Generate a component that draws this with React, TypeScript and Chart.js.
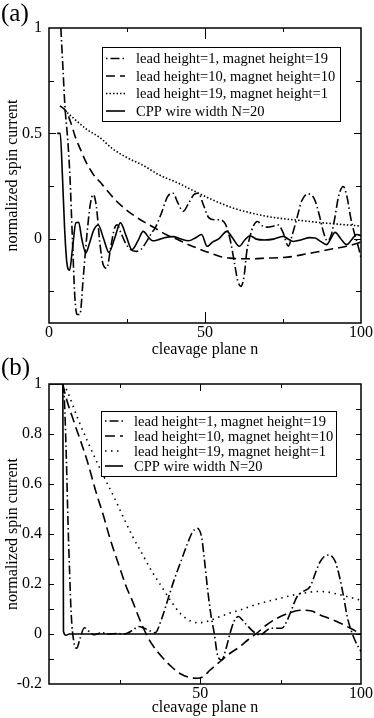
import React, { useEffect, useRef } from "react";
import { Chart, registerables } from "chart.js";

Chart.register(...registerables);

const FONT = "'Liberation Serif', 'Times New Roman', Times, serif";

const seriesLabels = [
  "lead height=1, magnet height=19",
  "lead height=10, magnet height=10",
  "lead height=19, magnet height=1",
  "CPP wire width N=20",
];

// ---------- panel (a) ----------
const aDashDotN = [3.8, 4.5, 5.1, 6.0, 6.7, 7.5, 8.3, 9.0, 9.9, 11.0, 12.1, 13.2, 14.2, 15.2, 16.3, 17.3, 18.5, 19.8, 21.0, 21.9, 23.0, 24.5, 26.0, 28.0, 29.5, 31.0, 33.0, 34.0, 36.0, 38.0, 39.8, 41.3, 43.0, 44.8, 46.5, 47.9, 49.5, 51.2, 53.0, 54.8, 56.5, 58.0, 59.5, 60.5, 61.5, 62.5, 63.4, 64.4, 65.5, 66.8, 68.5, 70.0, 72.0, 73.5, 75.0, 76.7, 78.0, 79.5, 81.0, 83.0, 85.0, 86.5, 88.0, 89.2, 90.3, 91.5, 92.8, 94.3, 95.5, 96.7, 97.8, 99.0, 100];
const aDashDotV = [1.0, 0.8, 0.63, 0.47, 0.3, 0.0, -0.28, -0.36, -0.36, -0.18, 0.01, 0.16, 0.21, 0.15, -0.02, -0.12, -0.14, -0.04, 0.05, 0.066, 0.03, -0.02, -0.05, -0.06, -0.05, -0.02, 0.03, 0.05, 0.12, 0.2, 0.216, 0.17, 0.13, 0.17, 0.21, 0.216, 0.16, 0.1, 0.09, 0.09, 0.07, 0.0, -0.12, -0.2, -0.226, -0.18, -0.06, 0.01, 0.06, 0.082, 0.06, 0.055, 0.06, 0.065, 0.03, -0.035, 0.02, 0.1, 0.18, 0.213, 0.19, 0.12, 0.03, -0.01, 0.01, 0.09, 0.2, 0.248, 0.2, 0.1, 0.03, -0.03, -0.09];

const aDashedN = [3.5, 4.5, 5.7, 7.0, 8.5, 9.9, 12.0, 14.7, 16.3, 18.0, 21.2, 24.5, 27.6, 31.0, 34.0, 37.5, 41.4, 45.0, 48.4, 51.6, 54.8, 58.0, 61.2, 65.0, 69.8, 74.0, 78.3, 82.5, 86.9, 91.0, 95.4, 99.1, 100];
const aDashedV = [0.63, 0.62, 0.6, 0.55, 0.48, 0.43, 0.36, 0.295, 0.27, 0.24, 0.185, 0.14, 0.106, 0.075, 0.05, 0.02, -0.005, -0.03, -0.05, -0.068, -0.084, -0.092, -0.095, -0.095, -0.092, -0.09, -0.084, -0.072, -0.06, -0.048, -0.036, -0.02, -0.015];

const aDottedN = [5.0, 8.0, 12.0, 16.3, 20.1, 25.0, 30.8, 35.0, 41.4, 46.0, 51.6, 55.0, 59.1, 64.0, 69.8, 75.0, 80.4, 86.0, 91.1, 95.0, 98.6, 100];
const aDottedV = [0.61, 0.57, 0.52, 0.48, 0.43, 0.385, 0.343, 0.305, 0.264, 0.23, 0.19, 0.168, 0.145, 0.125, 0.106, 0.095, 0.087, 0.078, 0.071, 0.066, 0.062, 0.06];

const aSolidN = [2.6, 3.6, 4.3, 5.0, 5.7, 6.6, 7.5, 8.6, 9.5, 10.5, 11.8, 13.0, 14.3, 15.8, 17.5, 19.2, 21.0, 22.9, 24.8, 26.6, 28.5, 30.2, 32.0, 33.2, 35.0, 37.0, 39.8, 42.0, 44.7, 47.0, 48.9, 50.7, 52.5, 54.5, 57.0, 59.0, 61.0, 62.8, 64.4, 66.5, 69.0, 72.0, 75.1, 76.5, 78.3, 81.0, 83.5, 85.3, 87.3, 89.0, 90.3, 91.7, 93.5, 95.4, 97.0, 98.6, 100];
const aSolidV = [0.5, 0.5, 0.3, 0.05, -0.11, -0.15, -0.05, 0.075, 0.078, 0.0, -0.067, -0.02, 0.04, 0.065, 0.0, -0.065, 0.0, 0.075, 0.01, -0.052, -0.01, 0.035, 0.005, -0.01, -0.005, 0.005, 0.01, 0.0, -0.01, 0.005, 0.02, -0.036, -0.015, 0.0, 0.035, 0.0, -0.036, -0.005, 0.014, -0.002, -0.006, -0.002, 0.011, 0.0, -0.013, -0.005, 0.005, 0.003, -0.015, -0.028, 0.0, 0.03, 0.0, -0.028, -0.005, 0.02, 0.015];

const aXTicks = [25, 50, 75];
const aXLabels = [0, 50, 100];
const aYTicks = [-0.25, 0, 0.25, 0.5, 0.75];
const aYLabels = [0, 0.5, 1];

// ---------- panel (b) ----------
const bDashDotN = [7.3, 7.8, 8.4, 8.9, 9.4, 9.9, 10.7, 11.6, 12.6, 14.0, 15.3, 17.0, 19.5, 21.5, 24.0, 26.5, 29.0, 30.8, 32.8, 34.5, 36.0, 38.0, 40.0, 42.0, 44.0, 46.0, 47.5, 49.0, 50.4, 51.3, 52.3, 53.3, 54.4, 55.4, 56.7, 58.0, 59.3, 60.5, 61.9, 63.2, 64.5, 66.5, 68.7, 70.3, 71.8, 73.5, 75.4, 76.7, 78.0, 80.1, 82.0, 84.2, 86.0, 87.3, 88.6, 89.9, 91.0, 92.0, 93.3, 94.6, 95.7, 96.7, 98.3, 100];
const bDashDotV = [1.0, 0.93, 0.7, 0.45, 0.25, 0.08, -0.03, -0.057, -0.02, 0.025, 0.012, -0.003, 0.005, 0.0, 0.002, 0.0, 0.015, 0.03, 0.022, 0.012, 0.005, 0.06, 0.14, 0.22, 0.29, 0.36, 0.405, 0.423, 0.39, 0.3, 0.18, 0.08, 0.0, -0.085, -0.104, -0.06, 0.003, 0.05, 0.07, 0.055, 0.036, 0.01, -0.004, 0.01, 0.023, 0.023, 0.023, 0.045, 0.083, 0.149, 0.17, 0.19, 0.25, 0.289, 0.31, 0.316, 0.31, 0.29, 0.23, 0.149, 0.07, 0.023, -0.03, -0.07];

const bDashedN = [7.3, 8.0, 11.0, 14.7, 17.8, 20.0, 22.0, 24.6, 27.0, 29.0, 31.3, 33.4, 35.5, 38.0, 41.0, 44.0, 47.0, 49.0, 51.0, 53.1, 56.2, 59.0, 62.4, 65.0, 67.6, 70.5, 73.9, 77.5, 81.1, 84.3, 87.3, 90.5, 93.6, 96.7, 100];
const bDashedV = [1.0, 0.96, 0.84, 0.7, 0.56, 0.47, 0.38, 0.28, 0.19, 0.13, 0.055, -0.005, -0.05, -0.09, -0.13, -0.16, -0.175, -0.177, -0.17, -0.144, -0.11, -0.08, -0.05, -0.022, 0.003, 0.035, 0.063, 0.083, 0.095, 0.093, 0.076, 0.06, 0.043, 0.023, 0.0];

const bDottedN = [7.3, 8.5, 12.0, 15.0, 18.9, 23.5, 26.0, 29.0, 32.0, 35.0, 38.0, 41.0, 44.0, 47.0, 49.5, 52.0, 56.2, 59.0, 62.4, 66.0, 70.7, 75.0, 79.0, 83.0, 86.3, 89.0, 91.5, 95.0, 100];
const bDottedV = [1.0, 0.976, 0.86, 0.77, 0.66, 0.54, 0.47, 0.39, 0.32, 0.25, 0.19, 0.13, 0.08, 0.052, 0.045, 0.05, 0.07, 0.083, 0.096, 0.112, 0.13, 0.143, 0.156, 0.165, 0.17, 0.169, 0.163, 0.152, 0.135];

const bSolidN = [3, 7.3, 7.5, 8.3, 9.3, 100];
const bSolidV = [1, 1, 0.01, -0.005, 0, 0];

const bXTicks = [25, 50, 75];
const bXLabels = [50, 100];
const bYTicks = [-0.1, 0, 0.1, 0.2, 0.3, 0.4, 0.5, 0.6, 0.7, 0.8, 0.9];
const bYLabels = [-0.2, 0, 0.2, 0.4, 0.6, 0.8, 1];

type Series = { n: number[]; v: number[] };

interface PanelCfg {
  series: Series[];
  dashes: number[][];
  xMin: number; xMax: number; yMin: number; yMax: number;
  xTicks: number[]; xLabels: number[]; yTicks: number[]; yLabels: number[];
  padTop: number; xAxisH: number;
  xMajorLen: number; xMinorLen: number; yMajorLen: number; yMinorLen: number;
  legend: { x: number; y: number; w: number; h: number; rows: number[]; sx0: number; sx1: number; tx: number; size: number };
}

const pts = (s: Series) => s.n.map((x, i) => ({ x, y: s.v[i] }));

function framePlugin(cfg: PanelCfg) {
  return {
    id: "frame",
    afterDatasetsDraw(chart: any) {
      const { ctx, chartArea: a } = chart;
      const xs = chart.scales.x;
      const ys = chart.scales.y;
      ctx.save();
      ctx.setLineDash([]);
      ctx.strokeStyle = "#000";
      ctx.lineWidth = 1;
      ctx.beginPath();
      cfg.xTicks.forEach((v) => {
        const px = Math.round(xs.getPixelForValue(v)) + 0.5;
        const len = cfg.xLabels.includes(v) ? cfg.xMajorLen : cfg.xMinorLen;
        ctx.moveTo(px, a.bottom); ctx.lineTo(px, a.bottom - len);
        ctx.moveTo(px, a.top); ctx.lineTo(px, a.top + len);
      });
      cfg.yTicks.forEach((v) => {
        const py = Math.round(ys.getPixelForValue(v)) + 0.5;
        const len = cfg.yLabels.includes(v) ? cfg.yMajorLen : cfg.yMinorLen;
        ctx.moveTo(a.left, py); ctx.lineTo(a.left + len, py);
        ctx.moveTo(a.right, py); ctx.lineTo(a.right - len, py);
      });
      ctx.stroke();
      ctx.lineWidth = 1.5;
      ctx.strokeRect(a.left, a.top, a.right - a.left, a.bottom - a.top);

      const L = cfg.legend;
      ctx.fillStyle = "#fff";
      ctx.fillRect(L.x, L.y, L.w, L.h);
      ctx.lineWidth = 1;
      ctx.strokeRect(L.x + 0.5, L.y + 0.5, L.w, L.h);
      ctx.font = `${L.size}px ${FONT}`;
      ctx.textBaseline = "middle";
      ctx.textAlign = "left";
      chart.data.datasets.forEach((ds: any, i: number) => {
        const y = L.rows[i];
        ctx.setLineDash(ds.borderDash || []);
        ctx.lineDashOffset = i === 0 ? 12 : 0;
        ctx.lineWidth = ds.borderWidth;
        ctx.beginPath();
        ctx.moveTo(L.sx0, y);
        ctx.lineTo(L.sx1, y);
        ctx.stroke();
        ctx.setLineDash([]);
        ctx.lineDashOffset = 0;
        ctx.fillStyle = "#000";
        ctx.fillText(ds.label, L.tx, y + 1);
      });
      ctx.restore();
    },
  };
}

function makeChart(canvas: HTMLCanvasElement, cfg: PanelCfg) {
  const tickFont = { family: FONT, size: 16 };
  return new Chart(canvas, {
    type: "line",
    data: {
      datasets: cfg.series.map((s, i) => ({
        label: seriesLabels[i],
        data: pts(s),
        borderColor: "#000",
        backgroundColor: "#000",
        borderWidth: 1.6,
        borderDash: cfg.dashes[i],
        pointRadius: 0,
        fill: false,
        cubicInterpolationMode: "monotone" as const,
      })),
    },
    options: {
      animation: false,
      responsive: false,
      events: [],
      layout: { padding: { top: cfg.padTop, right: 13, left: 0, bottom: 0 } },
      plugins: { legend: { display: false }, tooltip: { enabled: false } },
      scales: {
        x: {
          type: "linear",
          min: cfg.xMin,
          max: cfg.xMax,
          afterFit: (s: any) => { s.height = cfg.xAxisH; },
          afterBuildTicks: (s: any) => {
            const vals = Array.from(new Set([...cfg.xLabels, ...cfg.xTicks])).filter((v) => v >= cfg.xMin && v <= cfg.xMax).sort((p, q) => p - q);
            s.ticks = vals.map((value) => ({ value }));
          },
          ticks: {
            callback: (v: any) => (cfg.xLabels.includes(Number(v)) ? String(v) : ""),
            font: tickFont,
            color: "#000",
            padding: 0,
            maxRotation: 0,
            autoSkip: false,
          },
          grid: { display: false, drawTicks: false },
          border: { display: false },
          title: { display: true, text: "cleavage plane n", font: tickFont, color: "#000", padding: { top: 0, bottom: 1 } },
        },
        y: {
          type: "linear",
          min: cfg.yMin,
          max: cfg.yMax,
          afterFit: (s: any) => { s.width = 49; },
          afterBuildTicks: (s: any) => {
            const vals = Array.from(new Set([...cfg.yLabels, ...cfg.yTicks])).filter((v) => v >= cfg.yMin && v <= cfg.yMax).sort((p, q) => p - q);
            s.ticks = vals.map((value) => ({ value }));
          },
          ticks: {
            callback: (v: any) => (cfg.yLabels.includes(Number(v)) ? String(v) : ""),
            font: tickFont,
            color: "#000",
            padding: 7,
            autoSkip: false,
          },
          grid: { display: false, drawTicks: false },
          border: { display: false },
          title: { display: true, text: "normalized spin current", font: tickFont, color: "#000", padding: { top: 3, bottom: 0 } },
        },
      },
    } as any,
    plugins: [framePlugin(cfg)],
  });
}

const panelA: PanelCfg = {
  series: [
    { n: aDashDotN, v: aDashDotV },
    { n: aDashedN, v: aDashedV },
    { n: aDottedN, v: aDottedV },
    { n: aSolidN, v: aSolidV },
  ],
  dashes: [[9, 3, 1.5, 3], [9, 5], [1.5, 2], []],
  xMin: 0, xMax: 100, yMin: -0.4, yMax: 1,
  xTicks: aXTicks, xLabels: aXLabels, yTicks: aYTicks, yLabels: aYLabels,
  padTop: 28, xAxisH: 37,
  xMajorLen: 11, xMinorLen: 4, yMajorLen: 7, yMinorLen: 5,
  legend: { x: 102, y: 47, w: 238, h: 74, rows: [58.5, 76, 93.5, 111], sx0: 106, sx1: 125, tx: 136, size: 14.5 },
};

// legend geometry of panel (b) is given in page coordinates; the canvas starts at y=360
const panelB: PanelCfg = {
  series: [
    { n: bDashDotN, v: bDashDotV },
    { n: bDashedN, v: bDashedV },
    { n: bDottedN, v: bDottedV },
    { n: bSolidN, v: bSolidV },
  ],
  dashes: [[9, 3, 1.5, 3], [10, 5], [1.5, 4.5], []],
  xMin: 3, xMax: 100, yMin: -0.2, yMax: 1,
  xTicks: bXTicks, xLabels: bXLabels, yTicks: bYTicks, yLabels: bYLabels,
  padTop: 24, xAxisH: 34,
  xMajorLen: 7, xMinorLen: 4, yMajorLen: 5, yMinorLen: 5,
  legend: { x: 101, y: 411 - 360, w: 235, h: 65, rows: [421, 436, 451, 466].map((r) => r - 360), sx0: 105, sx1: 123, tx: 134, size: 14.5 },
};

export default function App() {
  const refA = useRef<HTMLCanvasElement>(null);
  const refB = useRef<HTMLCanvasElement>(null);

  useEffect(() => {
    const ca = makeChart(refA.current!, panelA);
    const cb = makeChart(refB.current!, panelB);
    return () => {
      ca.destroy();
      cb.destroy();
    };
  }, []);

  const labelStyle: React.CSSProperties = {
    position: "absolute",
    left: 1,
    fontFamily: FONT,
    fontSize: 25,
    lineHeight: "25px",
    color: "#000",
    zIndex: 2,
  };

  return (
    <div style={{ position: "absolute", left: 0, top: 0, width: 374, height: 718, background: "#fff", overflow: "hidden" }}>
      <canvas ref={refA} width={374} height={360} style={{ position: "absolute", left: 0, top: 0, width: 374, height: 360 }} />
      <canvas ref={refB} width={374} height={358} style={{ position: "absolute", left: 0, top: 360, width: 374, height: 358 }} />
      <div style={{ ...labelStyle, top: 0 }}>(a)</div>
      <div style={{ ...labelStyle, top: 354 }}>(b)</div>
    </div>
  );
}
